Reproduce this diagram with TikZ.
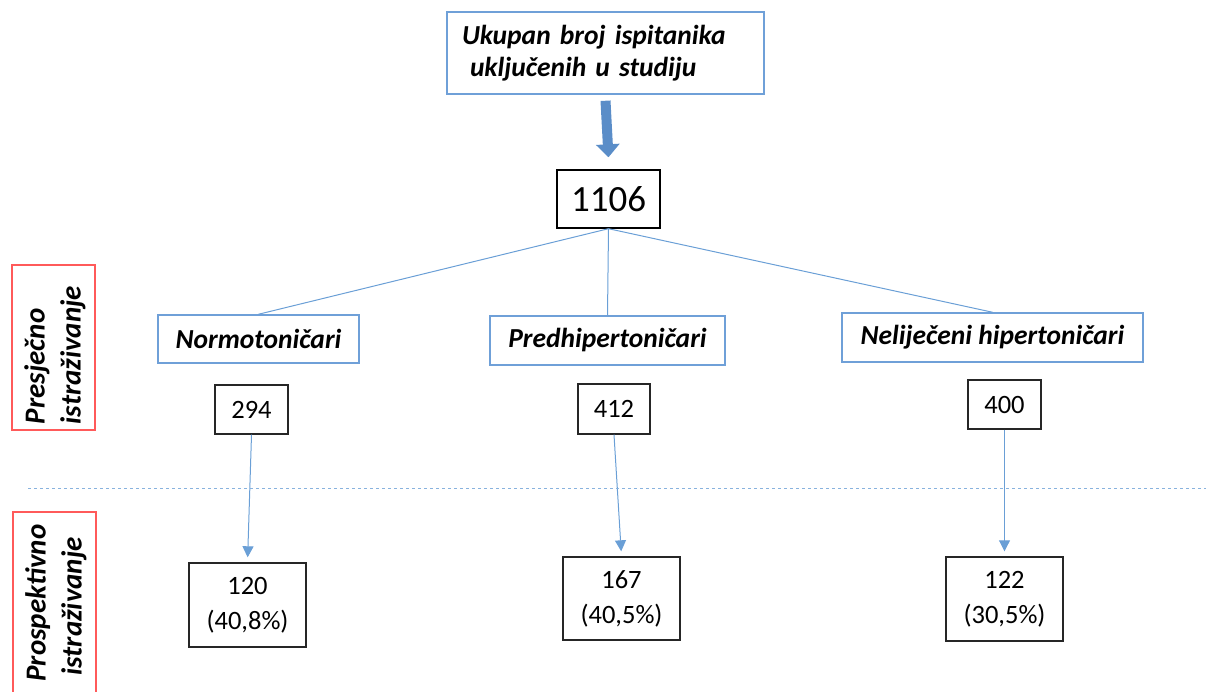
\documentclass[tikz,border=0pt]{standalone}
\usepackage{fontspec}
\setmainfont{Carlito}
\usetikzlibrary{arrows.meta}
\definecolor{bbord}{HTML}{6FA0D8}
\definecolor{conn}{HTML}{6A9FD6}
\definecolor{barrow}{HTML}{5A8DC8}
\definecolor{rbord}{HTML}{FF5A5A}
\tikzset{
  x=1pt, y=-1pt,
  catbox/.style={draw=bbord, line width=1.5pt, inner sep=0pt, font=\fontsize{27.5}{32}\selectfont\bfseries\itshape},
  numbox/.style={draw=black!85, line width=1.4pt, inner sep=0pt, align=center, font=\fontsize{26.5}{35}\selectfont},
  conline/.style={draw=conn, line width=1pt},
  conarrow/.style={conline, -{Triangle[width=11pt,length=11pt]}, shorten >=5pt},
  sidelabel/.style={rotate=90, align=left, font=\fontsize{29}{36}\selectfont\bfseries\itshape},
  sideframe/.style={draw=rbord, line width=1.4pt}
}
\begin{document}
\begin{tikzpicture}
\useasboundingbox (0,0) rectangle (1212,692);
% top
\node[catbox, minimum width=317pt, minimum height=82pt, text width=287pt, align=left] (top) at (605.5,53)
  {Ukupan broj ispitanika\\[0pt]\hspace*{8pt}uključenih\hspace{9pt}u studiju};
\node[draw=black, line width=1.4pt, minimum width=103pt, minimum height=58pt, inner sep=0pt, font=\fontsize{37}{42}\selectfont] (total) at (608.5,199) {1106};
\draw[draw=barrow, line width=10pt, -{Triangle[width=23pt,length=13pt]}] ([yshift=-6pt]top.south) -- ([yshift=12pt]total.north);
% categories
\node[catbox, minimum width=201pt, minimum height=48pt] (norm) at (258.5,339) {Normotoničari};
\node[catbox, minimum width=235pt, minimum height=49pt] (pred) at (607.5,340.5) {Predhipertoničari};
\node[catbox, minimum width=301pt, minimum height=49pt] (nelij) at (992.5,337.5) {Neliječeni hipertoničari};
\draw[conline] (total.south) -- (norm.north);
\draw[conline] (total.south) -- (pred.north);
\draw[conline] (total.south) -- (nelij.north);
% counts
\node[numbox, minimum width=73pt, minimum height=49pt] (n294) at (251.5,409.5) {294};
\node[numbox, minimum width=72pt, minimum height=50pt] (n412) at (614,409) {412};
\node[numbox, minimum width=73pt, minimum height=49pt] (n400) at (1004.5,404.5) {400};
% prospective
\node[numbox, minimum width=117pt, minimum height=84pt] (n120) at (247.5,605) {120\\(40,8\%)};
\node[numbox, minimum width=117pt, minimum height=83pt] (n167) at (621.5,598.5) {167\\(40,5\%)};
\node[numbox, minimum width=117pt, minimum height=84pt] (n122) at (1004.5,599) {122\\(30,5\%)};
\draw[conarrow] (n294.south) -- (n120.north);
\draw[conarrow] (n412.south) -- (n167.north);
\draw[conarrow] (n400.south) -- (n122.north);
% divider
\coordinate (dl) at (28,488);
\coordinate (dr) at (1206,488);
\draw[draw=conn!80, line width=1pt, dash pattern=on 3pt off 3pt] (dl) -- (dr);
% side labels
\node[sideframe, minimum width=165pt, minimum height=83pt, inner sep=0pt, rotate=90] (presf) at (53.5,347.5) {};
\node[sidelabel] (pres) at (55,355) {Presječno\\istraživanje};
\draw[sideframe] (13,695) -- (13,512) -- (96,512) -- (96,695);
\node[sidelabel] (pros) at (56,603) {Prospektivno\\\hspace*{6pt}istraživanje};
\end{tikzpicture}
\end{document}
